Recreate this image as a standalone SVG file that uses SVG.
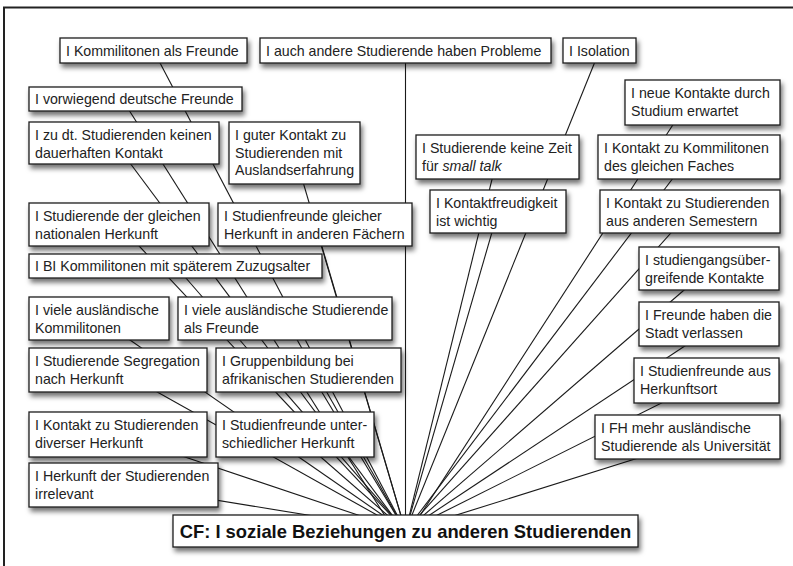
<svg xmlns="http://www.w3.org/2000/svg" width="793" height="566" viewBox="0 0 793 566">
<defs>
<filter id="sh" x="-10%" y="-30%" width="130%" height="180%">
<feDropShadow dx="2" dy="4" stdDeviation="2.5" flood-color="#000" flood-opacity="0.55"/>
</filter>
<style>
.box{fill:#fff;stroke:#1e1e1e;stroke-width:1.3;filter:url(#sh)}
.t{font-family:"Liberation Sans",Arial,Helvetica,sans-serif;font-size:14.2px;fill:#222}
.r{font-family:"Liberation Sans",Arial,Helvetica,sans-serif;font-size:18.4px;font-weight:bold;fill:#111;text-anchor:middle}
.e{stroke:#1a1a1a;stroke-width:1.1;fill:none}
</style>
</defs>
<rect width="793" height="566" fill="#fff"/>
<path d="M4,566 V7.5 H793" fill="none" stroke="#222" stroke-width="2"/>
<g id="connectors">
<line class="e" x1="153.5" y1="50.5" x2="405.5" y2="531"/>
<line class="e" x1="405.5" y1="50.5" x2="405.5" y2="531"/>
<line class="e" x1="599.5" y1="50.5" x2="405.5" y2="531"/>
<line class="e" x1="122" y1="99" x2="394.5" y2="531"/>
<line class="e" x1="124" y1="155" x2="404" y2="531"/>
<line class="e" x1="294.5" y1="153" x2="405.5" y2="531"/>
<line class="e" x1="687" y1="103" x2="410" y2="531"/>
<line class="e" x1="497.5" y1="157" x2="405.5" y2="531"/>
<line class="e" x1="689" y1="157" x2="405.5" y2="531"/>
<line class="e" x1="498" y1="211.5" x2="405.5" y2="531"/>
<line class="e" x1="690" y1="211.5" x2="405.5" y2="531"/>
<line class="e" x1="119" y1="224.5" x2="405.5" y2="531"/>
<line class="e" x1="315" y1="224.5" x2="405.5" y2="531"/>
<line class="e" x1="175.5" y1="266" x2="405.5" y2="531"/>
<line class="e" x1="99" y1="318.5" x2="405.5" y2="531"/>
<line class="e" x1="285" y1="318.5" x2="405.5" y2="531"/>
<line class="e" x1="118" y1="370" x2="405.5" y2="531"/>
<line class="e" x1="308.5" y1="370" x2="405.5" y2="531"/>
<line class="e" x1="118" y1="434.5" x2="405.5" y2="531"/>
<line class="e" x1="295" y1="434.5" x2="405.5" y2="531"/>
<line class="e" x1="123.5" y1="485" x2="405.5" y2="531"/>
<line class="e" x1="709" y1="268.5" x2="405.5" y2="531"/>
<line class="e" x1="718" y1="324" x2="405.5" y2="531"/>
<line class="e" x1="706.5" y1="380.5" x2="405.5" y2="531"/>
<line class="e" x1="705" y1="437" x2="405.5" y2="531"/>
</g>
<g id="n1"><rect class="box" x="60" y="38" width="187" height="25"/><text class="t" x="66" y="55.5">I Kommilitonen als Freunde</text></g>
<g id="n2"><rect class="box" x="260" y="38" width="291" height="25"/><text class="t" x="266" y="55.5">I auch andere Studierende haben Probleme</text></g>
<g id="n3"><rect class="box" x="563" y="38" width="73" height="25"/><text class="t" x="569" y="55.5">I Isolation</text></g>
<g id="n4"><rect class="box" x="29" y="87" width="213" height="24"/><text class="t" x="35" y="104">I vorwiegend deutsche Freunde</text></g>
<g id="n5"><rect class="box" x="29" y="122" width="190" height="42"/><text class="t" x="35" y="140">I zu dt. Studierenden keinen</text><text class="t" x="35" y="157.5">dauerhaften Kontakt</text></g>
<g id="n6"><rect class="box" x="229" y="122" width="131" height="62"/><text class="t" x="235" y="140">I guter Kontakt zu</text><text class="t" x="235" y="157.5">Studierenden mit</text><text class="t" x="235" y="175">Auslandserfahrung</text></g>
<g id="n7"><rect class="box" x="625" y="80" width="155" height="45"/><text class="t" x="631" y="98">I neue Kontakte durch</text><text class="t" x="631" y="115.5">Studium erwartet</text></g>
<g id="n8"><rect class="box" x="416" y="135" width="163" height="44"/><text class="t" x="422" y="153">I Studierende keine Zeit</text><text class="t" x="422" y="170.5">für <tspan font-style="italic">small talk</tspan></text></g>
<g id="n9"><rect class="box" x="598" y="135" width="182" height="44"/><text class="t" x="604" y="153">I Kontakt zu Kommilitonen</text><text class="t" x="604" y="170.5">des gleichen Faches</text></g>
<g id="n10"><rect class="box" x="430" y="190" width="136" height="43"/><text class="t" x="436" y="208">I Kontaktfreudigkeit</text><text class="t" x="436" y="225.5">ist wichtig</text></g>
<g id="n11"><rect class="box" x="600" y="190" width="180" height="43"/><text class="t" x="606" y="208">I Kontakt zu Studierenden</text><text class="t" x="606" y="225.5">aus anderen Semestern</text></g>
<g id="n12"><rect class="box" x="29" y="203" width="180" height="43"/><text class="t" x="35" y="221">I Studierende der gleichen</text><text class="t" x="35" y="238.5">nationalen Herkunft</text></g>
<g id="n13"><rect class="box" x="218" y="203" width="194" height="43"/><text class="t" x="224" y="221">I Studienfreunde gleicher</text><text class="t" x="224" y="238.5">Herkunft in anderen Fächern</text></g>
<g id="n14"><rect class="box" x="29" y="254" width="293" height="24"/><text class="t" x="35" y="271">I BI Kommilitonen mit späterem Zuzugsalter</text></g>
<g id="n15"><rect class="box" x="29" y="297" width="140" height="43"/><text class="t" x="35" y="315">I viele ausländische</text><text class="t" x="35" y="332.5">Kommilitonen</text></g>
<g id="n16"><rect class="box" x="178" y="297" width="214" height="43"/><text class="t" x="184" y="315">I viele ausländische Studierende</text><text class="t" x="184" y="332.5">als Freunde</text></g>
<g id="n17"><rect class="box" x="29" y="348" width="178" height="44"/><text class="t" x="35" y="366">I Studierende Segregation</text><text class="t" x="35" y="383.5">nach Herkunft</text></g>
<g id="n18"><rect class="box" x="216" y="348" width="185" height="44"/><text class="t" x="222" y="366">I Gruppenbildung bei</text><text class="t" x="222" y="383.5">afrikanischen Studierenden</text></g>
<g id="n19"><rect class="box" x="29" y="412" width="178" height="45"/><text class="t" x="35" y="430">I Kontakt zu Studierenden</text><text class="t" x="35" y="447.5">diverser Herkunft</text></g>
<g id="n20"><rect class="box" x="216" y="412" width="158" height="45"/><text class="t" x="222" y="430">I Studienfreunde unter-</text><text class="t" x="222" y="447.5">schiedlicher Herkunft</text></g>
<g id="n21"><rect class="box" x="29" y="463" width="189" height="44"/><text class="t" x="35" y="481">I Herkunft der Studierenden</text><text class="t" x="35" y="498.5">irrelevant</text></g>
<g id="n23"><rect class="box" x="639" y="247" width="140" height="43"/><text class="t" x="645" y="265">I studiengangsüber-</text><text class="t" x="645" y="282.5">greifende Kontakte</text></g>
<g id="n24"><rect class="box" x="639" y="302" width="140" height="44"/><text class="t" x="645" y="320">I Freunde haben die</text><text class="t" x="645" y="337.5">Stadt verlassen</text></g>
<g id="n25"><rect class="box" x="634" y="358" width="145" height="45"/><text class="t" x="640" y="376">I Studienfreunde aus</text><text class="t" x="640" y="393.5">Herkunftsort</text></g>
<g id="n26"><rect class="box" x="595" y="415" width="185" height="44"/><text class="t" x="601" y="433">I FH mehr ausländische</text><text class="t" x="601" y="450.5">Studierende als Universität</text></g>
<g id="root"><rect class="box" x="173" y="515" width="465" height="32"/><text class="r" x="405.5" y="537.5">CF: I soziale Beziehungen zu anderen Studierenden</text></g>
</svg>
